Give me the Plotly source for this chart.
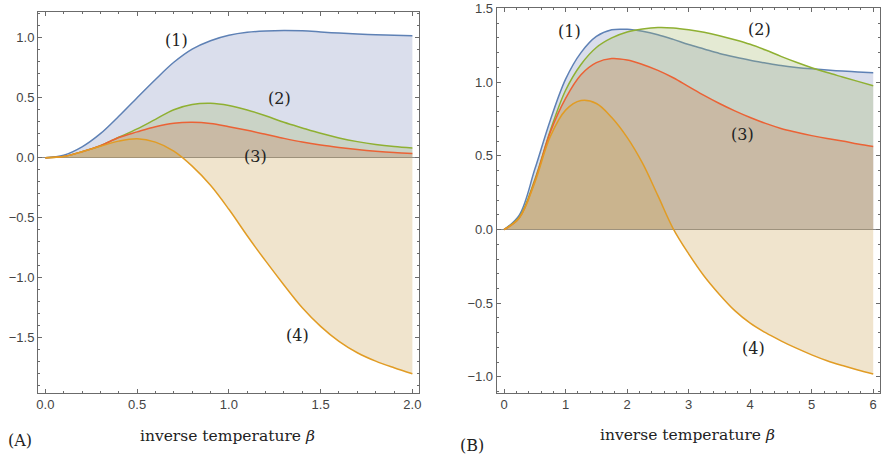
import plotly.graph_objects as go

# ---------------- data: panel A ----------------
xa = [0.0, 0.1, 0.2, 0.3, 0.4, 0.5, 0.6, 0.7, 0.8, 0.9, 1.0,
      1.1, 1.2, 1.3, 1.4, 1.5, 1.6, 1.7, 1.8, 1.9, 2.0]
a1 = [0.0, 0.02, 0.09, 0.20, 0.345, 0.50, 0.652, 0.795, 0.905, 0.975, 1.02,
      1.045, 1.056, 1.06, 1.057, 1.048, 1.038, 1.03, 1.024, 1.02, 1.017]
a2 = [0.0, 0.01, 0.05, 0.10, 0.17, 0.24, 0.32, 0.40, 0.443, 0.453, 0.435,
      0.398, 0.35, 0.295, 0.248, 0.203, 0.165, 0.134, 0.11, 0.093, 0.081]
a3 = [0.0, 0.01, 0.05, 0.10, 0.168, 0.215, 0.258, 0.287, 0.295, 0.285, 0.258,
      0.228, 0.195, 0.161, 0.13, 0.105, 0.085, 0.068, 0.054, 0.043, 0.036]
a4 = [0.0, 0.01, 0.05, 0.095, 0.138, 0.158, 0.13, 0.055, -0.07, -0.23, -0.43,
      -0.65, -0.86, -1.06, -1.25, -1.405, -1.53, -1.625, -1.695, -1.75, -1.80]

# ---------------- data: panel B ----------------
xb = [0.0, 0.25, 0.5, 0.75, 1.0, 1.25, 1.5, 1.75, 2.0, 2.25, 2.5, 2.75, 3.0,
      3.25, 3.5, 3.75, 4.0, 4.25, 4.5, 4.75, 5.0, 5.25, 5.5, 5.75, 6.0]
b1 = [0.0, 0.10, 0.41, 0.74, 1.02, 1.20, 1.31, 1.355, 1.358, 1.345, 1.322, 1.29,
      1.255, 1.225, 1.195, 1.17, 1.148, 1.13, 1.113, 1.10, 1.09, 1.082, 1.075,
      1.069, 1.064]
b2 = [0.0, 0.085, 0.34, 0.67, 0.945, 1.12, 1.235, 1.30, 1.34, 1.36, 1.37, 1.367,
      1.355, 1.338, 1.315, 1.288, 1.257, 1.218, 1.175, 1.135, 1.098, 1.065, 1.035,
      1.005, 0.976]
b3 = [0.0, 0.08, 0.33, 0.66, 0.89, 1.05, 1.132, 1.16, 1.15, 1.12, 1.08, 1.03,
      0.97, 0.91, 0.855, 0.805, 0.76, 0.72, 0.686, 0.66, 0.637, 0.617, 0.60,
      0.58, 0.563]
b4 = [0.0, 0.08, 0.32, 0.63, 0.81, 0.875, 0.855, 0.76, 0.625, 0.45, 0.23, 0.005,
      -0.165, -0.315, -0.44, -0.55, -0.635, -0.70, -0.755, -0.805, -0.85, -0.89,
      -0.923, -0.953, -0.98]

curve_labels = ["(1)", "(2)", "(3)", "(4)"]
xtitle = "inverse temperature <i>β</i>"
panel_labels = ["(A)", "(B)"]

line_colors = ["#5E81B5", "#8FB032", "#EB6235", "#E19C24"]
fill_colors = ["rgba(132,145,192,0.3)", "rgba(165,185,109,0.3)",
               "rgba(199,128,88,0.3)", "rgba(205,165,88,0.3)"]

W, H = 881, 461
fig = go.Figure()

for xs, series, xr, yr in [(xa, [a1, a2, a3, a4], "x", "y"),
                           (xb, [b1, b2, b3, b4], "x2", "y2")]:
    for ys, c, fc in zip(series, line_colors, fill_colors):
        fig.add_trace(go.Scatter(
            x=xs, y=ys, mode="lines",
            line=dict(color=c, width=1.5, shape="spline", smoothing=1.0),
            fill="tozeroy", fillcolor=fc,
            xaxis=xr, yaxis=yr, hoverinfo="skip", showlegend=False))

frame = "#6b6b6b"
tickfont = dict(family="Liberation Sans, Arial, sans-serif", size=13, color="#444")


def axis(domain, rng, dtick, minor, fmt, anchor, zl):
    return dict(domain=domain, range=rng, anchor=anchor, dtick=dtick, tick0=0,
                tickformat=fmt, ticks="inside", ticklen=4, tickcolor=frame,
                showline=True, linecolor=frame, linewidth=1, mirror="ticks",
                minor=dict(dtick=minor, tick0=0, ticks="inside", ticklen=2,
                           tickcolor=frame),
                showgrid=False, zeroline=zl, zerolinecolor="#8a8a8a",
                zerolinewidth=1.2, tickfont=tickfont, automargin=False)


y_dom_a = [(H - 392.7) / H, (H - 12) / H]
y_dom_b = [(H - 392.7) / H, (H - 8) / H]

fig.update_layout(
    width=W, height=H, margin=dict(l=0, r=0, t=0, b=0, pad=0),
    paper_bgcolor="white", plot_bgcolor="white", showlegend=False,
    xaxis=axis([38 / W, 419 / W], [-0.04, 2.036], 0.5, 0.1, ".1f", "y", False),
    yaxis=axis(y_dom_a, [-1.958, 1.214], 0.5, 0.1, ".1f", "x", True),
    xaxis2=axis([496.7 / W, 880 / W], [-0.12, 6.11], 1, 0.2, "d", "y2", False),
    yaxis2=axis(y_dom_b, [-1.107, 1.503], 0.5, 0.1, ".1f", "x2", True),
)

serif = dict(family="DejaVu Serif, serif", size=16, color="#222")
title_font = dict(family="DejaVu Serif, serif", size=15.5, color="#222")

label_pos_a = [(0.716, 0.98), (1.275, 0.495), (1.143, 0.008), (1.375, -1.478)]
label_pos_b = [(1.068, 1.344), (4.146, 1.36), (3.876, 0.643), (4.049, -0.805)]
for (x, y), t in zip(label_pos_a, curve_labels):
    fig.add_annotation(x=x, y=y, xref="x", yref="y", text=t, showarrow=False,
                       font=serif, xanchor="center", yanchor="middle")
for (x, y), t in zip(label_pos_b, curve_labels):
    fig.add_annotation(x=x, y=y, xref="x2", yref="y2", text=t, showarrow=False,
                       font=serif, xanchor="center", yanchor="middle")

for cx, cy in [(227.5, 436), (687, 435)]:
    fig.add_annotation(x=cx / W, y=1 - cy / H, xref="paper", yref="paper",
                       text=xtitle, showarrow=False, font=title_font,
                       xanchor="center", yanchor="middle")

for (cx, cy), t in zip([(20, 440), (472, 445)], panel_labels):
    fig.add_annotation(x=cx / W, y=1 - cy / H, xref="paper", yref="paper",
                       text=t, showarrow=False, font=serif,
                       xanchor="center", yanchor="middle")

fig.write_html("out.html",
               config={"displayModeBar": False, "staticPlot": True},
               post_script="document.body.style.margin='0';"
                           "document.body.style.padding='0';")
